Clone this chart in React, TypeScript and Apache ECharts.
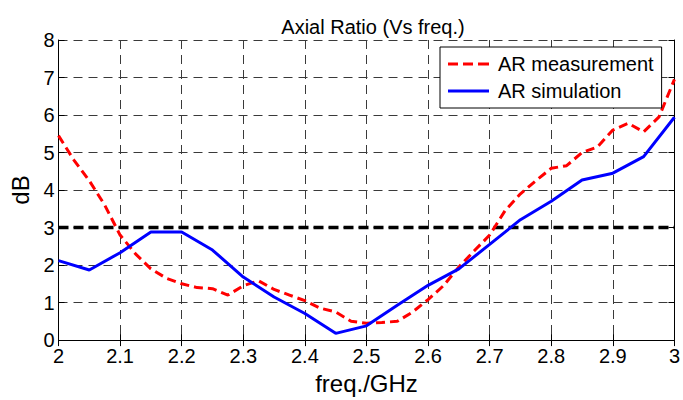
import React, { useEffect, useRef } from "react";
import * as echarts from "echarts";

const freqMeas = [2.0, 2.025, 2.05, 2.075, 2.1, 2.125, 2.15, 2.175, 2.2, 2.225, 2.25, 2.275, 2.3, 2.325, 2.35, 2.375, 2.4, 2.425, 2.45, 2.475, 2.5, 2.525, 2.55, 2.575, 2.6, 2.625, 2.65, 2.675, 2.7, 2.725, 2.75, 2.775, 2.8, 2.825, 2.85, 2.875, 2.9, 2.925, 2.95, 2.975, 3.0];
const arMeasurement = [5.45, 4.8, 4.25, 3.6, 2.8, 2.3, 1.9, 1.65, 1.5, 1.4, 1.37, 1.2, 1.45, 1.58, 1.35, 1.2, 1.05, 0.85, 0.75, 0.5, 0.45, 0.47, 0.5, 0.75, 1.08, 1.45, 1.95, 2.38, 2.8, 3.45, 3.9, 4.25, 4.58, 4.65, 5.0, 5.15, 5.6, 5.78, 5.55, 5.95, 6.95];

const freqSim = [2.0, 2.05, 2.1, 2.15, 2.2, 2.25, 2.3, 2.35, 2.4, 2.45, 2.5, 2.55, 2.6, 2.65, 2.7, 2.75, 2.8, 2.85, 2.9, 2.95, 3.0];
const arSimulation = [2.12, 1.87, 2.33, 2.88, 2.88, 2.4, 1.68, 1.15, 0.71, 0.18, 0.38, 0.93, 1.46, 1.9, 2.55, 3.21, 3.7, 4.27, 4.45, 4.89, 5.94];

const thresholdX = [2.0, 3.0];
const thresholdDb = 3;

const FONT = "Liberation Sans, Arial, sans-serif";

const dashedIcon = "path://M0,0h10v3h-10z M15,0h10v3h-10z M30,0h11v3h-11z";
const solidIcon = "path://M0,0h41v3h-41z";

export default function App() {
  const ref = useRef<HTMLDivElement>(null);
  useEffect(() => {
    if (!ref.current) return;
    const chart = echarts.init(ref.current, null, { renderer: "svg" });
    const gridLine = { show: true, lineStyle: { color: "#3a3a3a", width: 1, type: [9, 6] as any } };
    const axisLine = { show: true, lineStyle: { color: "#000", width: 1 } };
    const tickIn = { show: true, inside: true, length: 6, lineStyle: { color: "#000" } };
    chart.setOption({
      animation: false,
      backgroundColor: "#fff",
      title: {
        text: "Axial Ratio (Vs freq.)",
        left: 368,
        textAlign: "center",
        top: 12,
        textStyle: { fontFamily: FONT, fontSize: 20, fontWeight: "normal", color: "#000" },
      },
      grid: { left: 58.5, right: 6, top: 40, bottom: 56.5, show: false },
      legend: {
        data: [
          { name: "AR measurement", icon: dashedIcon, itemStyle: { color: "#ff0000" } },
          { name: "AR simulation", icon: solidIcon, itemStyle: { color: "#0000ff" } },
        ],
        orient: "vertical",
        left: 440,
        top: 47,
        backgroundColor: "#fff",
        borderColor: "#000",
        borderWidth: 1,
        borderRadius: 0,
        padding: [7, 8, 7, 8],
        itemWidth: 41,
        itemHeight: 3,
        itemGap: 7,
        textStyle: { fontFamily: FONT, fontSize: 20, color: "#000", padding: [0, 0, 0, 4], lineHeight: 20 },
      },
      xAxis: [
        {
          type: "value",
          min: 2,
          max: 3,
          interval: 0.1,
          name: "freq./GHz",
          nameLocation: "middle",
          nameGap: 29,
          nameTextStyle: { fontFamily: FONT, fontSize: 24, color: "#000" },
          axisLine,
          axisTick: tickIn,
          splitLine: gridLine,
          axisLabel: { fontFamily: FONT, fontSize: 20, color: "#000", margin: 6 },
        },
        {
          type: "value",
          position: "top",
          min: 2,
          max: 3,
          interval: 0.1,
          axisLine,
          axisTick: tickIn,
          splitLine: { show: false },
          axisLabel: { show: false },
        },
      ],
      yAxis: [
        {
          type: "value",
          min: 0,
          max: 8,
          interval: 1,
          name: "dB",
          nameLocation: "middle",
          nameGap: 25,
          nameRotate: 90,
          nameTextStyle: { fontFamily: FONT, fontSize: 24, color: "#000" },
          axisLine,
          axisTick: tickIn,
          splitLine: gridLine,
          axisLabel: { fontFamily: FONT, fontSize: 20, color: "#000", margin: 4 },
        },
        {
          type: "value",
          position: "right",
          min: 0,
          max: 8,
          interval: 1,
          axisLine,
          axisTick: tickIn,
          splitLine: { show: false },
          axisLabel: { show: false },
        },
      ],
      series: [
        {
          name: "threshold",
          type: "line",
          data: thresholdX.map((x) => [x, thresholdDb]),
          showSymbol: false,
          silent: true,
          lineStyle: { color: "#000", width: 3.5, type: [10, 5] as any },
          z: 2,
        },
        {
          name: "AR measurement",
          type: "line",
          data: freqMeas.map((x, i) => [x, arMeasurement[i]]),
          showSymbol: false,
          symbol: "none",
          lineStyle: { color: "#ff0000", width: 3, type: [9, 5] as any },
          itemStyle: { color: "#ff0000" },
          z: 3,
        },
        {
          name: "AR simulation",
          type: "line",
          data: freqSim.map((x, i) => [x, arSimulation[i]]),
          showSymbol: false,
          symbol: "none",
          lineStyle: { color: "#0000ff", width: 3 },
          itemStyle: { color: "#0000ff" },
          z: 3,
        },
      ],
    });
    return () => chart.dispose();
  }, []);
  return <div ref={ref} style={{ position: "absolute", left: 0, top: 0, width: 683, height: 400 }} />;
}
